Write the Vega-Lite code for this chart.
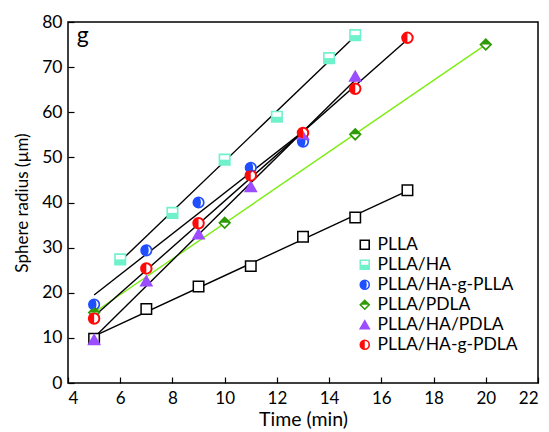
{
  "$schema": "https://vega.github.io/schema/vega-lite/v6.json",
  "autosize": "none",
  "width": 470,
  "height": 361,
  "padding": {"left": 68, "top": 22, "right": 11, "bottom": 49},
  "background": "white",
  "config": {
    "view": {"stroke": "black", "strokeWidth": 1.5},
    "font": "Lato",
    "axis": {
      "grid": false,
      "domain": false,
      "labelFont": "Lato",
      "labelFontSize": 17.5,
      "labelColor": "black",
      "tickColor": "black",
      "tickWidth": 1.2,
      "tickSize": -6,
      "titleFont": "Lato",
      "titleFontWeight": "normal",
      "titleColor": "black"
    },
    "axisX": {"labelPadding": 13, "labelFontSize": 17, "titlePadding": 4, "titleFontSize": 19.5},
    "axisY": {"labelPadding": 12, "titlePadding": 10, "titleFontSize": 17},
    "legend": {
      "labelFont": "Lato",
      "labelFontSize": 17.5,
      "labelColor": "black"
    }
  },
  "data": {
    "values": [
      {"series": "PLLA", "x": 5, "y": 9.8},
      {"series": "PLLA", "x": 7, "y": 16.4},
      {"series": "PLLA", "x": 9, "y": 21.4},
      {"series": "PLLA", "x": 11, "y": 25.9},
      {"series": "PLLA", "x": 13, "y": 32.4},
      {"series": "PLLA", "x": 15, "y": 36.7},
      {"series": "PLLA", "x": 17, "y": 42.7},
      {"series": "PLLA/HA", "x": 6, "y": 27.4},
      {"series": "PLLA/HA", "x": 8, "y": 37.7},
      {"series": "PLLA/HA", "x": 10, "y": 49.5},
      {"series": "PLLA/HA", "x": 12, "y": 59},
      {"series": "PLLA/HA", "x": 14, "y": 72},
      {"series": "PLLA/HA", "x": 15, "y": 77.1},
      {"series": "PLLA/HA-g-PLLA", "x": 5, "y": 17.4},
      {"series": "PLLA/HA-g-PLLA", "x": 7, "y": 29.4},
      {"series": "PLLA/HA-g-PLLA", "x": 9, "y": 40},
      {"series": "PLLA/HA-g-PLLA", "x": 11, "y": 47.7},
      {"series": "PLLA/HA-g-PLLA", "x": 13, "y": 53.5},
      {"series": "PLLA/PDLA", "x": 5, "y": 15.6},
      {"series": "PLLA/PDLA", "x": 10, "y": 35.5},
      {"series": "PLLA/PDLA", "x": 15, "y": 55.1},
      {"series": "PLLA/PDLA", "x": 20, "y": 75},
      {"series": "PLLA/HA/PDLA", "x": 5, "y": 9.6},
      {"series": "PLLA/HA/PDLA", "x": 7, "y": 22.6},
      {"series": "PLLA/HA/PDLA", "x": 9, "y": 33},
      {"series": "PLLA/HA/PDLA", "x": 11, "y": 43.5},
      {"series": "PLLA/HA/PDLA", "x": 13, "y": 55},
      {"series": "PLLA/HA/PDLA", "x": 15, "y": 68},
      {"series": "PLLA/HA-g-PDLA", "x": 5, "y": 14.3},
      {"series": "PLLA/HA-g-PDLA", "x": 7, "y": 25.4},
      {"series": "PLLA/HA-g-PDLA", "x": 9, "y": 35.4},
      {"series": "PLLA/HA-g-PDLA", "x": 11, "y": 46},
      {"series": "PLLA/HA-g-PDLA", "x": 13, "y": 55.4},
      {"series": "PLLA/HA-g-PDLA", "x": 15, "y": 65.2},
      {"series": "PLLA/HA-g-PDLA", "x": 17, "y": 76.5}
    ]
  },
  "layer": [
    {
      "transform": [{"regression": "y", "on": "x", "groupby": ["series"]}],
      "mark": {"type": "line", "strokeWidth": 1.4},
      "encoding": {
        "x": {"field": "x", "type": "quantitative", "scale": {"domain": [4, 22], "nice": false, "zero": false}, "axis": {"values": [4, 6, 8, 10, 12, 14, 16, 18, 20, 22], "title": "Time (min)"}},
        "y": {"field": "y", "type": "quantitative", "scale": {"domain": [0, 80], "nice": false}, "axis": {"values": [0, 10, 20, 30, 40, 50, 60, 70, 80], "title": "Sphere radius (µm)"}},
        "detail": {"field": "series"},
        "color": {"condition": {"test": "datum.series === 'PLLA/PDLA'", "value": "#7ced12"}, "value": "black"}
      }
    },
    {
      "mark": {"type": "point", "fill": "white", "filled": false, "opacity": 1, "size": 110},
      "encoding": {
        "x": {"field": "x", "type": "quantitative"},
        "y": {"field": "y", "type": "quantitative"},
        "shape": {
          "field": "series", "type": "nominal",
          "scale": {"domain": ["PLLA", "PLLA/HA", "PLLA/HA-g-PLLA", "PLLA/PDLA", "PLLA/HA/PDLA", "PLLA/HA-g-PDLA"],
                    "range": ["square", "square", "circle", "diamond", "triangle-up", "circle"]},
          "legend": {"title": null, "orient": "none", "legendX": 288, "legendY": 214, "symbolSize": 80, "rowPadding": 1, "labelOffset": 4, "symbolStrokeWidth": 1.6, "symbolFillColor": "white"}
        },
        "stroke": {
          "field": "series", "type": "nominal",
          "scale": {"domain": ["PLLA", "PLLA/HA", "PLLA/HA-g-PLLA", "PLLA/PDLA", "PLLA/HA/PDLA", "PLLA/HA-g-PDLA"],
                    "range": ["#000000", "#6ff2cc", "#1f4fff", "#2f9a06", "#9b4dff", "#ff0a0a"]},
          "legend": {"title": null, "orient": "none", "legendX": 288, "legendY": 214, "symbolSize": 80, "rowPadding": 1, "labelOffset": 4, "symbolStrokeWidth": 1.6, "symbolFillColor": "white"}
        },
        "strokeWidth": {
          "field": "series", "type": "nominal",
          "scale": {"domain": ["PLLA", "PLLA/HA", "PLLA/HA-g-PLLA", "PLLA/PDLA", "PLLA/HA/PDLA", "PLLA/HA-g-PDLA"],
                    "range": [1.5, 2, 2, 1.6, 1, 1.5]},
          "legend": null
        }
      }
    },
    {
      "mark": {"type": "point", "filled": true, "opacity": 1, "size": 110, "strokeWidth": 0},
      "encoding": {
        "x": {"field": "x", "type": "quantitative"},
        "y": {"field": "y", "type": "quantitative"},
        "shape": {
          "field": "series", "type": "nominal",
          "scale": {"domain": ["PLLA", "PLLA/HA", "PLLA/HA-g-PLLA", "PLLA/PDLA", "PLLA/HA/PDLA", "PLLA/HA-g-PDLA"],
                    "range": ["M-1,-1H1V1H-1Z", "M-1,0H1V1H-1Z", "M0,-1C-0.5523,-1,-1,-0.5523,-1,0C-1,0.5523,-0.5523,1,0,1C0.2485,1,0.45,0.5523,0.45,0C0.45,-0.5523,0.2485,-1,0,-1Z", "M-1,0L0,-1L1,0Z", "triangle-up", "M0,-1C-0.5523,-1,-1,-0.5523,-1,0C-1,0.5523,-0.5523,1,0,1Z"]},
          "legend": {"title": null, "orient": "none", "legendX": 288, "legendY": 214, "symbolSize": 80, "rowPadding": 1, "labelOffset": 4, "symbolStrokeWidth": 0, "labelExpr": "''"}
        },
        "fill": {
          "field": "series", "type": "nominal",
          "scale": {"domain": ["PLLA", "PLLA/HA", "PLLA/HA-g-PLLA", "PLLA/PDLA", "PLLA/HA/PDLA", "PLLA/HA-g-PDLA"],
                    "range": ["transparent", "#6ff2cc", "#1f4fff", "#2f9a06", "#9b4dff", "#ff0a0a"]},
          "legend": {"title": null, "orient": "none", "legendX": 288, "legendY": 214, "symbolSize": 80, "rowPadding": 1, "labelOffset": 4, "symbolStrokeWidth": 0, "labelExpr": "''"}
        }
      }
    },
    {
      "data": {"values": [{"label": "g"}]},
      "mark": {"type": "text", "font": "Lato", "fontSize": 23, "align": "center", "baseline": "alphabetic", "color": "black"},
      "encoding": {
        "x": {"datum": 4.56, "type": "quantitative"},
        "y": {"datum": 75.4, "type": "quantitative"},
        "text": {"field": "label"}
      }
    }
  ],
  "resolve": {
    "scale": {"shape": "independent"},
    "legend": {"shape": "independent", "stroke": "independent", "fill": "independent"}
  }
}
